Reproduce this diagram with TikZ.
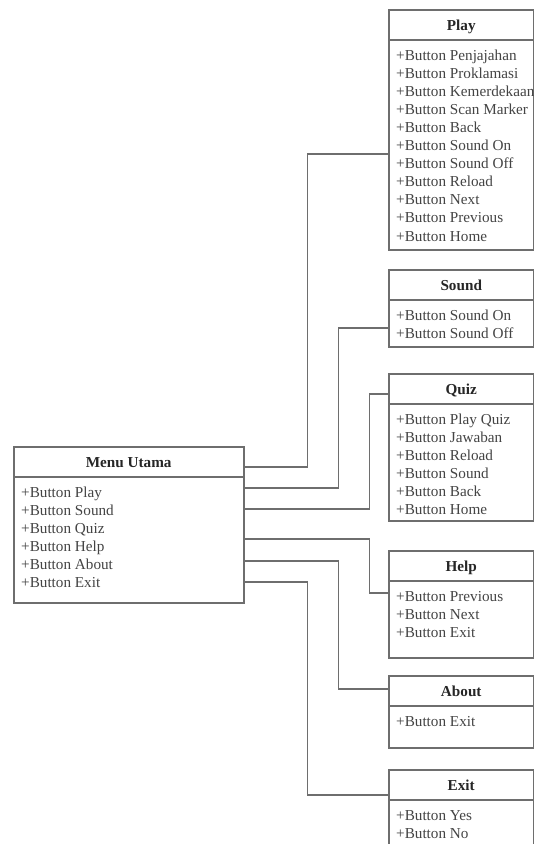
\documentclass[tikz,border=0pt]{standalone}
\usepackage{fontspec}
\setmainfont{Liberation Serif}
\usetikzlibrary{calc}

\definecolor{linegray}{HTML}{6E6E6E}
\definecolor{textgray}{HTML}{444444}

\tikzset{
  frame/.style={draw=linegray, line width=1.5pt},
  boxframe/.style={frame, rectangle, inner sep=0pt, fill=white},
  conn/.style={draw=linegray, line width=1.7pt},
  classtitle/.style={font=\fontsize{15.2}{17}\selectfont\bfseries, text=black!85,
    inner sep=0pt, text height=10.5pt, text depth=3.5pt},
  classitem/.style={font=\fontsize{15.2}{17}\selectfont, text=textgray,
    inner sep=0pt, text height=10.5pt, text depth=3.5pt, anchor=west},
}

% #1 name, #2 left, #3 top, #4 width, #5 height, #6 title, #7 items
\newcommand{\classbox}[7]{%
  \node[boxframe, minimum width=#4pt, minimum height=#5pt, anchor=north west] (#1) at (#2,#3) {};
  \draw[frame] ([yshift=-31pt]#1.north west) -- ([yshift=-31pt]#1.north east);
  \node[classtitle] (#1-title) at ([yshift=-17.5pt]#1.north) {#6};
  \foreach \t [count=\i] in {#7}
    \node[classitem] (#1-\i) at ([xshift=8pt,yshift={-(47.5+(\i-1)*18.1)*1pt}]#1.north west) {\t};
}

\begin{document}
\begin{tikzpicture}[x=1pt, y=-1pt]
  \useasboundingbox (0,0) rectangle (534,844);
  \clip (0,0) rectangle (534,844);

  % main menu
  \classbox{menu}{13}{446}{230}{156}{Menu Utama}%
    {+Button Play, +Button Sound, +Button Quiz, +Button Help, +Button About, +Button Exit}

  % sub menus
  \classbox{play}{388}{9}{145}{240}{Play}%
    {+Button Penjajahan, +Button Proklamasi, +Button Kemerdekaan, +Button Scan Marker,
     +Button Back, +Button Sound On, +Button Sound Off, +Button Reload, +Button Next,
     +Button Previous, +Button Home}
  \classbox{sound}{388}{269}{145}{77}{Sound}%
    {+Button Sound On, +Button Sound Off}
  \classbox{quiz}{388}{373}{145}{147}{Quiz}%
    {+Button Play Quiz, +Button Jawaban, +Button Reload, +Button Sound, +Button Back, +Button Home}
  \classbox{help}{388}{550}{145}{107}{Help}%
    {+Button Previous, +Button Next, +Button Exit}
  \classbox{about}{388}{675}{145}{72}{About}%
    {+Button Exit}
  \classbox{exit}{388}{769}{145}{100}{Exit}%
    {+Button Yes, +Button No}

  % connection points on the main menu
  \coordinate (mPlay)  at ([yshift=-21pt]menu.north east);
  \coordinate (mSound) at ([yshift=-42pt]menu.north east);
  \coordinate (mQuiz)  at ([yshift=-63pt]menu.north east);
  \coordinate (mHelp)  at ([yshift=-93pt]menu.north east);
  \coordinate (mAbout) at ([yshift=-115pt]menu.north east);
  \coordinate (mExit)  at ([yshift=-136pt]menu.north east);

  % connection points on the sub menus
  \coordinate (pPlay)  at ([yshift=-145pt]play.north west);
  \coordinate (pSound) at ([yshift=-59pt]sound.north west);
  \coordinate (pQuiz)  at ([yshift=-21pt]quiz.north west);
  \coordinate (pHelp)  at ([yshift=-43pt]help.north west);
  \coordinate (pAbout) at ([yshift=-14pt]about.north west);
  \coordinate (pExit)  at ([yshift=-26pt]exit.north west);

  % elbow connectors
  \draw[conn] (mPlay)  -- ++(63,0)  |- (pPlay);
  \draw[conn] (mSound) -- ++(94,0)  |- (pSound);
  \draw[conn] (mQuiz)  -- ++(125,0) |- (pQuiz);
  \draw[conn] (mHelp)  -- ++(125,0) |- (pHelp);
  \draw[conn] (mAbout) -- ++(94,0)  |- (pAbout);
  \draw[conn] (mExit)  -- ++(63,0)  |- (pExit);
\end{tikzpicture}
\end{document}
